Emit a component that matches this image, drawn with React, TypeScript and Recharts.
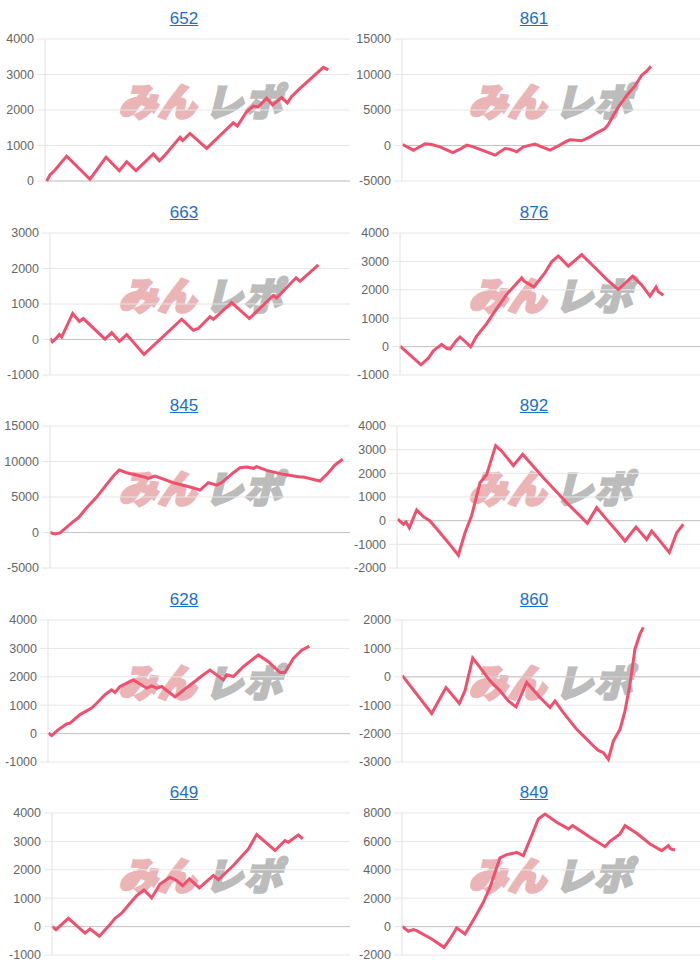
import React from 'react';
import { LineChart, Line, XAxis, YAxis, CartesianGrid, ReferenceLine } from 'recharts';

// ---- titles (machine numbers) ----
const titles = ['652', '861', '663', '876', '845', '892', '628', '860', '649', '849'];

// ---- y-axis tick labels ----
const ticks652 = [0, 1000, 2000, 3000, 4000];
const ticks861 = [-5000, 0, 5000, 10000, 15000];
const ticks663 = [-1000, 0, 1000, 2000, 3000];
const ticks876 = [-1000, 0, 1000, 2000, 3000, 4000];
const ticks845 = [-5000, 0, 5000, 10000, 15000];
const ticks892 = [-2000, -1000, 0, 1000, 2000, 3000, 4000];
const ticks628 = [-1000, 0, 1000, 2000, 3000, 4000];
const ticks860 = [-3000, -2000, -1000, 0, 1000, 2000];
const ticks649 = [-1000, 0, 1000, 2000, 3000, 4000];
const ticks849 = [-2000, 0, 2000, 4000, 6000, 8000];

// ---- series: games played / coin difference ----
const games652 = [50, 150, 300, 650, 1350, 1830, 2230, 2450, 2730, 3250, 3430, 3570, 4050, 4130, 4350, 4850, 5650, 5770, 6050, 6250, 6400, 6650, 6830, 7100, 7270, 7400, 7650, 8350, 8500];
const diff652 = [0, 170, 310, 700, 50, 670, 290, 545, 290, 760, 570, 700, 1230, 1140, 1340, 920, 1640, 1550, 1950, 2110, 2090, 2330, 2140, 2350, 2200, 2380, 2610, 3200, 3130];

const games861 = [20, 340, 440, 690, 890, 1140, 1520, 1740, 1940, 2140, 2540, 2790, 3090, 3240, 3440, 3640, 3990, 4190, 4440, 4690, 4940, 5040, 5240, 5390, 5640, 5840, 6090, 6190, 6340, 6540, 6790, 6990, 7190, 7340, 7470];
const diff861 = [140, -660, -420, 230, 140, -190, -990, -520, 50, -190, -890, -1360, -420, -520, -890, -190, 190, -190, -660, -50, 610, 800, 750, 660, 1220, 1780, 2390, 2960, 4270, 5770, 7320, 8400, 9910, 10470, 11170];

const games663 = [0, 70, 180, 280, 350, 680, 880, 1000, 1650, 1850, 2080, 2300, 2820, 3950, 4300, 4450, 4800, 4900, 5450, 5980, 6700, 6800, 7380, 7500, 8050];
const diff663 = [30, -65, 30, 140, 75, 730, 510, 590, 10, 190, -50, 140, -420, 570, 260, 310, 640, 570, 1040, 590, 1240, 1170, 1740, 1640, 2100];

const games876 = [0, 220, 630, 850, 1000, 1250, 1400, 1500, 1680, 1800, 1950, 2120, 2300, 2600, 2850, 3200, 3650, 3720, 4020, 4350, 4550, 4750, 5050, 5450, 5950, 6200, 6550, 6980, 7250, 7500, 7680, 7750, 7900];
const diff876 = [20, -210, -640, -410, -150, 80, -60, -90, 200, 340, 180, -10, 370, 810, 1250, 1840, 2420, 2310, 2100, 2600, 2990, 3190, 2830, 3240, 2660, 2370, 2010, 2480, 2170, 1780, 2100, 1930, 1810];

const games845 = [0, 150, 300, 450, 650, 850, 1100, 1400, 1700, 1900, 2080, 2300, 2800, 2950, 3150, 3700, 4200, 4500, 4750, 5000, 5150, 5500, 5700, 5900, 6100, 6200, 6500, 7000, 7500, 7600, 8100, 8350, 8550, 8780];
const diff845 = [0, -190, -50, 560, 1360, 2070, 3480, 4990, 6780, 7950, 8800, 8420, 7860, 7620, 7950, 7010, 6400, 5980, 7010, 6680, 7010, 8420, 9130, 9220, 9040, 9270, 8750, 8190, 7810, 7810, 7250, 8420, 9510, 10310];

const games892 = [20, 190, 270, 370, 590, 790, 990, 1190, 1540, 1840, 2040, 2240, 2490, 2690, 2960, 3140, 3490, 3770, 4040, 4390, 4790, 5140, 5490, 5710, 5990, 6240, 6590, 6840, 7170, 7490, 7640, 7890, 8170, 8390, 8590];
const diff892 = [60, -150, -60, -300, 450, 170, -10, -340, -930, -1460, -510, 220, 1600, 1950, 3170, 2940, 2330, 2800, 2370, 1810, 1210, 690, 200, -110, 550, 130, -440, -860, -270, -790, -440, -860, -1350, -510, -150];

const games628 = [10, 110, 310, 560, 660, 960, 1310, 1460, 1710, 1910, 2010, 2160, 2560, 2960, 3110, 3260, 3410, 3810, 4210, 4610, 4860, 5260, 5360, 5560, 5860, 6310, 6610, 6960, 7110, 7360, 7610, 7840];
const diff628 = [20, -70, 140, 340, 370, 670, 900, 1070, 1370, 1540, 1450, 1660, 1890, 1600, 1680, 1600, 1660, 1290, 1660, 2030, 2240, 1890, 2070, 2010, 2360, 2770, 2530, 2150, 2150, 2650, 2940, 3080];

const games860 = [10, 890, 1320, 1720, 1890, 2120, 2340, 2640, 2940, 3190, 3420, 3740, 4140, 4440, 4590, 4840, 5240, 5440, 5790, 5890, 6040, 6190, 6340, 6540, 6690, 6840, 6990, 7140, 7240];
const diff860 = [40, -1290, -380, -940, -490, 660, 330, -140, -490, -850, -1060, -200, -730, -1080, -850, -1260, -1850, -2080, -2490, -2590, -2670, -2910, -2260, -1850, -1200, -260, 980, 1510, 1740];

const games649 = [0, 120, 490, 990, 1140, 1420, 1740, 1890, 2090, 2340, 2540, 2760, 2990, 3240, 3540, 3740, 3920, 4120, 4420, 4840, 4990, 5440, 5890, 6140, 6690, 6990, 7090, 7390, 7520];
const diff649 = [10, -110, 290, -230, -80, -340, 70, 290, 470, 820, 1090, 1290, 1010, 1500, 1740, 1620, 1440, 1680, 1360, 1800, 1650, 2150, 2730, 3240, 2680, 3030, 2970, 3230, 3090];

const games849 = [10, 190, 340, 440, 890, 1260, 1440, 1640, 1890, 2190, 2440, 2640, 2940, 3140, 3340, 3440, 3640, 3890, 4090, 4290, 4640, 4990, 5120, 5640, 6090, 6240, 6540, 6690, 7040, 7440, 7790, 7990, 8060, 8190];
const diff849 = [20, -330, -210, -280, -870, -1460, -870, -90, -520, 660, 1710, 2770, 4840, 5070, 5160, 5230, 5000, 6410, 7580, 7930, 7350, 6880, 7110, 6290, 5630, 6010, 6530, 7110, 6570, 5820, 5350, 5700, 5470, 5400];

const gamesList = [games652, games861, games663, games876, games845, games892, games628, games860, games649, games849];
const diffList = [diff652, diff861, diff663, diff876, diff845, diff892, diff628, diff860, diff649, diff849];
const tickList = [ticks652, ticks861, ticks663, ticks876, ticks845, ticks892, ticks628, ticks860, ticks649, ticks849];

// ---- layout (y-axis widths per chart) ----
const axisWidths = [45, 52, 50, 50, 50, 47, 48, 52, 52, 52];

const FONT = '"Liberation Sans", Arial, Helvetica, sans-serif';
const LINE_COLOR = '#f0506e';

function SlumpChart(props: { title: string; games: number[]; diffs: number[]; ticks: number[]; axisW: number; left: number; top: number }) {
  const { title, games, diffs, ticks, axisW, left, top } = props;
  const data = games.map((g, i) => ({ g, v: diffs[i] }));
  const xMax = (350 - axisW) * 30;
  return (
    <div style={{ position: 'absolute', left, top, width: 350, height: 194 }}>
      <div
        style={{
          position: 'absolute', left: 0, top: 9, width: 368, textAlign: 'center',
          fontSize: 17, lineHeight: '20px', color: '#1a6fc8', textDecoration: 'underline', fontFamily: FONT,
        }}
      >
        {title}
      </div>
      <div
        style={{
          position: 'absolute', left: 118, top: 81, whiteSpace: 'nowrap',
          fontFamily: '"Noto Sans CJK JP", sans-serif', fontWeight: 900,
          fontSize: 38, lineHeight: '38px', letterSpacing: 1,
          transform: 'skewX(-14deg)', transformOrigin: 'left bottom',
        }}
      >
        <span style={{ color: '#ebb4b6', WebkitTextStroke: '3px #ebb4b6' }}>みん</span>
        <span style={{ color: '#bcbcbc', WebkitTextStroke: '2.5px #bcbcbc', marginLeft: 8 }}>レポ</span>
      </div>
      <div style={{ position: 'absolute', left: 0, top: 29 }}>
        <LineChart width={350} height={162} data={data} margin={{ top: 10, right: 0, bottom: 10, left: 0 }}>
          <CartesianGrid vertical={false} stroke="#e6e6e6" />
          <XAxis type="number" dataKey="g" domain={[0, xMax]} hide />
          <YAxis
            type="number"
            domain={[ticks[0], ticks[ticks.length - 1]]}
            ticks={ticks}
            interval={0}
            width={axisW}
            tickSize={8}
            tickMargin={3}
            axisLine={{ stroke: '#e0e0e0' }}
            tickLine={{ stroke: '#e6e6e6' }}
            tick={{ fill: '#666', fontSize: 12.5, fontFamily: FONT }}
          />
          <ReferenceLine y={0} stroke="#c4c4c4" />
          <Line
            type="linear"
            dataKey="v"
            stroke={LINE_COLOR}
            strokeWidth={3}
            dot={false}
            isAnimationActive={false}
          />
        </LineChart>
      </div>
    </div>
  );
}

export default function App() {
  return (
    <div style={{ position: 'absolute', left: 0, top: 0, width: 700, height: 970, background: '#fff', overflow: 'hidden' }}>
      {titles.map((t, i) => (
        <SlumpChart
          key={t}
          title={t}
          games={gamesList[i]}
          diffs={diffList[i]}
          ticks={tickList[i]}
          axisW={axisWidths[i]}
          left={(i % 2) * 350}
          top={Math.floor(i / 2) * 193.5}
        />
      ))}
    </div>
  );
}
